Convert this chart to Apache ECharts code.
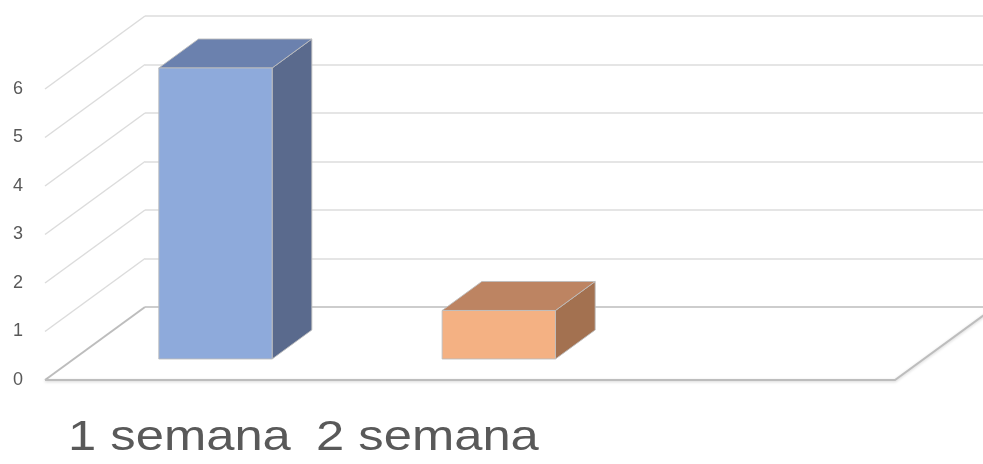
<!DOCTYPE html>
<html>
<head>
<meta charset="utf-8">
<script src="https://cdn.jsdelivr.net/npm/echarts@6/dist/echarts.min.js"></script>
<style>
  html, body { margin: 0; padding: 0; background: #ffffff; }
  #chart { width: 983px; height: 464px; }
</style>
</head>
<body>
<div id="chart"></div>
<script>
// Data
const categories = ['1 semana', '2 semana'];
const axisSlots = ['1 semana', '2 semana', ''];   // third slot stays empty
const values = [6, 1];
const yTicks = [0, 1, 2, 3, 4, 5, 6];

// Oblique projection of the floor depth (front plane -> back wall), px
const DEPTH_X = 100;
const DEPTH_Y = 73;
// Depth fractions of the bar front and back faces
const BAR_FRONT = 0.288;
const BAR_BACK = 0.685;

const faceColors = [
  { front: '#8eaadb', top: '#6b81ae', side: '#5a6a8d' },
  { front: '#f4b183', top: '#bd8462', side: '#a37150' }
];

const chart = echarts.init(document.getElementById('chart'), null, { renderer: 'canvas' });

// Left wall diagonals and the floor outline, one item per y tick
function frameItem(params, api) {
  const v = api.value(1);
  const cs = params.coordSys;
  const y = api.coord([0, v])[1];
  const x = cs.x;
  const isFloor = v === 0;
  const style = {
    stroke: isFloor ? '#bdbdbd' : '#dcdcdc',
    lineWidth: isFloor ? 2 : 1.5,
    fill: null
  };
  const children = [{
    type: 'line',
    shape: { x1: x, y1: y, x2: x + DEPTH_X, y2: y - DEPTH_Y },
    style: style
  }];
  if (isFloor) {
    const xr = cs.x + cs.width;
    children.push({
      type: 'polyline',
      shape: { points: [[x, y], [xr, y], [xr + DEPTH_X, y - DEPTH_Y]] },
      style: { stroke: '#bdbdbd', lineWidth: 2, fill: null,
               shadowColor: 'rgba(0,0,0,0.18)', shadowBlur: 3, shadowOffsetY: 1 }
    });
  }
  return { type: 'group', children: children };
}

// Box-shaped bar: front face, top face and right side face
function barItem(params, api) {
  const idx = api.value(0);
  const base = api.coord([idx, 0]);
  const top = api.coord([idx, api.value(1)]);
  const bw = api.size([1, 0])[0] * 0.4;
  const x0 = base[0] - bw / 2 + DEPTH_X * BAR_FRONT;
  const x1 = x0 + bw;
  const yb = base[1] - DEPTH_Y * BAR_FRONT;
  const yt = top[1] - DEPTH_Y * BAR_FRONT;
  const ddx = DEPTH_X * (BAR_BACK - BAR_FRONT);
  const ddy = DEPTH_Y * (BAR_BACK - BAR_FRONT);
  const c = faceColors[idx % faceColors.length];
  const edge = 'rgba(190,190,190,0.9)';
  return {
    type: 'group',
    children: [
      {
        type: 'polygon',
        shape: { points: [[x1, yt], [x1 + ddx, yt - ddy], [x1 + ddx, yb - ddy], [x1, yb]] },
        style: { fill: c.side, stroke: edge, lineWidth: 1 }
      },
      {
        type: 'polygon',
        shape: { points: [[x0, yt], [x1, yt], [x1 + ddx, yt - ddy], [x0 + ddx, yt - ddy]] },
        style: { fill: c.top, stroke: edge, lineWidth: 1 }
      },
      {
        type: 'rect',
        shape: { x: x0, y: yt, width: bw, height: yb - yt },
        style: { fill: c.front, stroke: edge, lineWidth: 1 }
      }
    ]
  };
}

const labelX = [68, 316];

chart.setOption({
  animation: false,
  backgroundColor: '#ffffff',
  grid: [
    // back wall
    { left: 145, right: -12, top: 16, bottom: 157 },
    // front plane
    { left: 45, right: 88, top: 89, bottom: 84 }
  ],
  xAxis: [
    { gridIndex: 0, type: 'category', data: axisSlots, show: false },
    { gridIndex: 1, type: 'category', data: axisSlots,
      axisLine: { show: false }, axisTick: { show: false }, axisLabel: { show: false } }
  ],
  yAxis: [
    { gridIndex: 0, type: 'value', min: 0, max: 6, interval: 1,
      axisLine: { show: false }, axisTick: { show: false }, axisLabel: { show: false },
      splitLine: { show: true, lineStyle: {
        color: ['#bdbdbd', '#dcdcdc', '#dcdcdc', '#dcdcdc', '#dcdcdc', '#dcdcdc', '#dcdcdc'],
        width: 1.5 } } },
    { gridIndex: 1, type: 'value', min: 0, max: 6, interval: 1,
      axisLine: { show: false }, axisTick: { show: false }, splitLine: { show: false },
      axisLabel: { show: true, margin: 22, color: '#595959', fontSize: 18,
                   fontFamily: 'Liberation Sans, Arial, sans-serif' } }
  ],
  graphic: categories.map((name, i) => ({
    type: 'text',
    x: labelX[i],
    y: 438,
    scaleX: 1.18,
    style: {
      text: name,
      fill: '#595959',
      fontSize: 43,
      fontFamily: 'Liberation Sans, Arial, sans-serif',
      verticalAlign: 'middle',
      align: 'left'
    }
  })),
  series: [
    {
      type: 'custom',
      name: 'frame',
      xAxisIndex: 1,
      yAxisIndex: 1,
      clip: false,
      silent: true,
      z: 1,
      renderItem: frameItem,
      data: yTicks.map(v => [0, v])
    },
    {
      type: 'custom',
      name: 'bars',
      xAxisIndex: 1,
      yAxisIndex: 1,
      clip: false,
      z: 3,
      renderItem: barItem,
      data: values.map((v, i) => [i, v])
    }
  ]
});
</script>
</body>
</html>
